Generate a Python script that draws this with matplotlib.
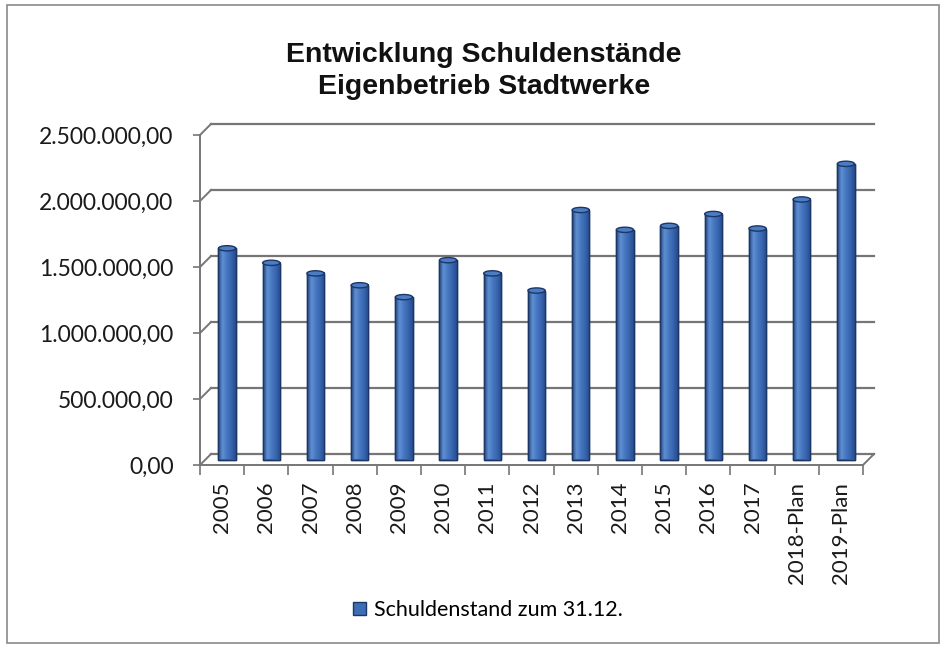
import numpy as np
import matplotlib
matplotlib.use("Agg")
import matplotlib.pyplot as plt
import matplotlib.transforms as mtransforms
from matplotlib.colors import LinearSegmentedColormap
from matplotlib.patches import Ellipse, Rectangle
from matplotlib.ticker import FuncFormatter

# --- data ---
years = ["2005", "2006", "2007", "2008", "2009", "2010", "2011", "2012",
         "2013", "2014", "2015", "2016", "2017", "2018-Plan", "2019-Plan"]
debt = [1600000, 1490000, 1410000, 1320000, 1230000, 1510000, 1410000, 1280000,
        1890000, 1740000, 1770000, 1860000, 1750000, 1970000, 2240000]
y_ticks = [0, 500000, 1000000, 1500000, 2000000, 2500000]

title_lines = ["Entwicklung Schuldenstände", "Eigenbetrieb Stadtwerke"]
series_name = "Schuldenstand zum 31.12."

W, H, DPI = 946, 650, 100
fig = plt.figure(figsize=(W / DPI, H / DPI), dpi=DPI)

# front plane of the 3D box
ax = fig.add_axes([200 / W, 185 / H, 663 / W, 330 / H])
x = np.arange(len(years))

def shifted(dx, dy, base=None):
    base = ax.transData if base is None else base
    return base + mtransforms.ScaledTranslation(dx / DPI, dy / DPI, fig.dpi_scale_trans)

ax.set_xlim(-0.5, len(years) - 0.5)
ax.set_ylim(0, 2500000)
mid = shifted(5, 5.5)
back = shifted(11, 11)
back_y = shifted(11, 11, ax.get_yaxis_transform())

grid_col = "#767676"

def fig_line(p0, p1):
    fig.add_artist(plt.Line2D([p0[0] / W, p1[0] / W], [p0[1] / H, p1[1] / H],
                              transform=fig.transFigure, color=grid_col, lw=1.4))

# back wall gridlines + connectors to the front axis
for t in y_ticks:
    ax.plot([0, 1], [t, t], transform=back_y, color=grid_col, lw=1.6,
            clip_on=False, zorder=1)
    fig_line(ax.transData.transform((-0.5, t)), back.transform((-0.5, t)))

# floor right edge
fig_line(ax.transData.transform((len(years) - 0.5, 0)),
         back.transform((len(years) - 0.5, 0)))

# cylinder bars
width = 0.39
main_col = "#3d6db5"
edge_col = "#1c3666"
cmap = LinearSegmentedColormap.from_list(
    "cyl", ["#24487f", "#5f8fd2", "#4677c0", "#3764ad", "#264c8c"])
grad = np.linspace(0, 1, 64).reshape(1, -1)

ax.bar(x, debt, width=width, color=main_col, edgecolor=edge_col, lw=1.0,
       transform=mid, zorder=2, label=series_name)
for xi, v in zip(x, debt):
    ax.imshow(grad, cmap=cmap, aspect="auto", interpolation="bilinear",
              extent=(xi - width / 2, xi + width / 2, 0, v),
              transform=mid, zorder=3)
    ax.add_patch(Rectangle((xi - width / 2, 0), width, v, fill=False,
                           edgecolor=edge_col, lw=1.0, transform=mid, zorder=4))
    ax.add_patch(Ellipse((xi, v), width, 40000, facecolor="#4b7dc4",
                         edgecolor=edge_col, lw=1.0, transform=mid, zorder=5))

ax.set_xlim(-0.5, len(years) - 0.5)
ax.set_ylim(0, 2500000)

# axes styling
for side in ["top", "right"]:
    ax.spines[side].set_visible(False)
for side in ["left", "bottom"]:
    ax.spines[side].set_color(grid_col)
    ax.spines[side].set_linewidth(1.4)
ax.set_facecolor("none")

ax.set_yticks(y_ticks)
ax.yaxis.set_major_formatter(FuncFormatter(
    lambda v, p: f"{v:,.2f}".replace(",", "X").replace(".", ",").replace("X", ".")))
ax.tick_params(axis="y", length=5, width=1.2, color=grid_col, pad=14,
               labelsize=16.5, labelcolor="#1a1a1a")
ax.set_xticks(x)
ax.set_xticklabels(years, rotation=90)
ax.tick_params(axis="x", which="major", length=0, pad=12, labelsize=16,
               labelcolor="#1a1a1a")
ax.set_xticks(np.arange(len(years) + 1) - 0.5, minor=True)
ax.tick_params(axis="x", which="minor", length=7, width=1.2, color=grid_col)
for lab in ax.get_xticklabels() + ax.get_yticklabels():
    lab.set_fontfamily(["Lato", "DejaVu Sans"])

for line, base in zip(title_lines, [62, 94]):
    fig.text(484 / W, 1 - base / H, line, ha="center", va="baseline",
             fontsize=20.5, fontweight="bold", family="Liberation Sans",
             color="#111111")

ax.legend(loc="center", bbox_to_anchor=(488 / W, 1 - 610 / H),
          bbox_transform=fig.transFigure, frameon=False,
          handlelength=0.6, handleheight=0.6, handletextpad=0.35,
          prop={"family": "Lato", "size": 15.5})

fig.add_artist(Rectangle((7 / W, 7 / H), 1 - 14 / W, 1 - 12 / H,
                         transform=fig.transFigure, fill=False,
                         edgecolor="#8a8a8a", lw=1.2))

fig.savefig("out.png", dpi=DPI)
